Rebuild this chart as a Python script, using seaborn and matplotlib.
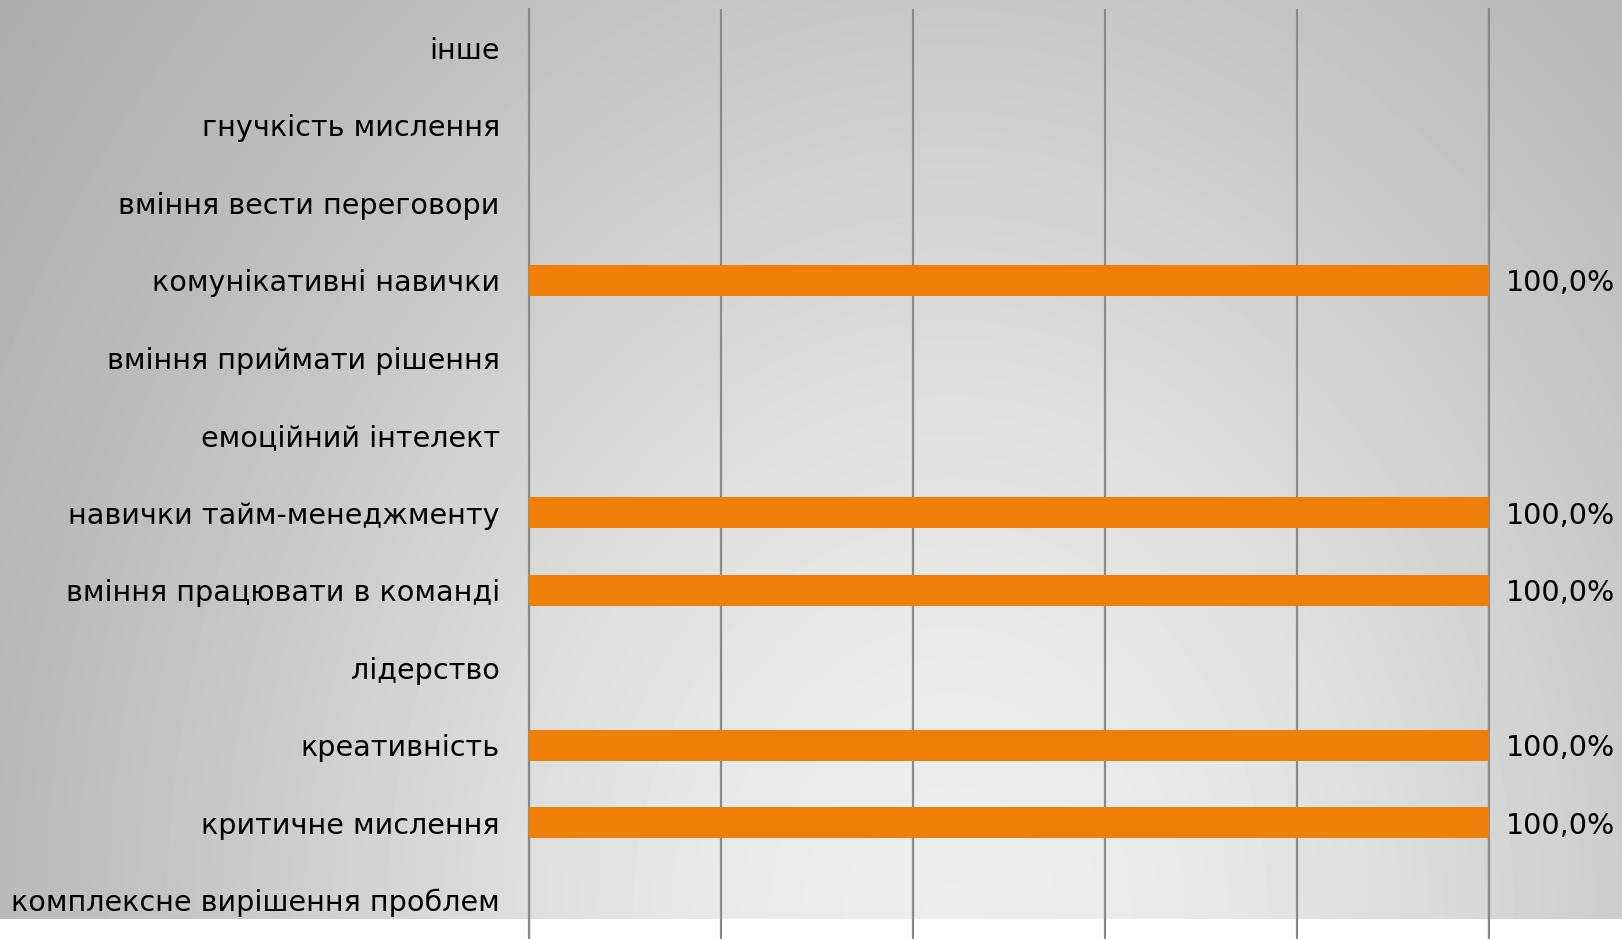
import numpy as np
import pandas as pd
import seaborn as sns
import matplotlib.pyplot as plt

# data (top to bottom)
skills = ['інше', 'гнучкість мислення', 'вміння вести переговори',
          'комунікативні навички', 'вміння приймати рішення', 'емоційний інтелект',
          'навички тайм-менеджменту', 'вміння працювати в команді', 'лідерство',
          'креативність', 'критичне мислення', 'комплексне вирішення проблем']
shares = [0, 0, 0, 1.0, 0, 0, 1.0, 1.0, 0, 1.0, 1.0, 0]
x_ticks = [0, 0.2, 0.4, 0.6, 0.8, 1.0]

df = pd.DataFrame({'skill': skills, 'share': shares})

sns.set_style('white')
plt.rcParams['font.family'] = ['DejaVu Sans']

W, H = 1622, 939
fig = plt.figure(figsize=(W / 100, H / 100), dpi=100)
fig.patch.set_facecolor('white')

# grey radial background, white strip at the bottom
bg = fig.add_axes([0, 20 / H, 1, 1 - 20 / H])
h = H - 20
yy, xx = np.mgrid[0:h, 0:W]
r = np.sqrt(((xx - 950) / 0.8) ** 2 + (h - yy) ** 2)
img = 0.93 - 0.3 * (1 - np.exp(-(r / 1120) ** 2))
bg.imshow(img, cmap='gray', vmin=0, vmax=1, aspect='auto', interpolation='bilinear')
bg.axis('off')

ax = fig.add_axes([529 / W, 0, (1489 - 529) / W, 1 - 9 / H])
ax.patch.set_alpha(0)
sns.barplot(data=df, x='share', y='skill', color='#f07f0a', saturation=1,
            width=0.4, linewidth=0, ax=ax, zorder=3)

grid_c = '#8a8a8a'
ax.set_xlim(0, 1.0)
ax.set_ylim(11.5, -0.5)
ax.set_xticks(x_ticks)
ax.set_xticklabels([])
ax.tick_params(axis='x', length=0)
ax.grid(axis='x', color=grid_c, lw=1.6)
ax.set_axisbelow(True)

ax.set_yticks(np.arange(-0.5, 12, 1), minor=True)
ax.tick_params(axis='y', which='minor', length=10, width=1.6, color=grid_c, direction='out')
ax.tick_params(axis='y', which='major', length=0, pad=21, labelsize=20.6, labelcolor='#000000')

for s in ['top', 'bottom']:
    ax.spines[s].set_visible(False)
for s in ['left', 'right']:
    ax.spines[s].set_color(grid_c)
    ax.spines[s].set_linewidth(1.6)

labels = ['100,0%' if v > 0 else '' for v in shares]
texts = ax.bar_label(ax.containers[0], labels=labels, padding=12, fontsize=20.6,
                     color='#000000', clip_on=False)
for t in texts:
    t.set_va('center_baseline')

ax.set_xlabel('')
ax.set_ylabel('')

fig.savefig('out.png', dpi=100)
